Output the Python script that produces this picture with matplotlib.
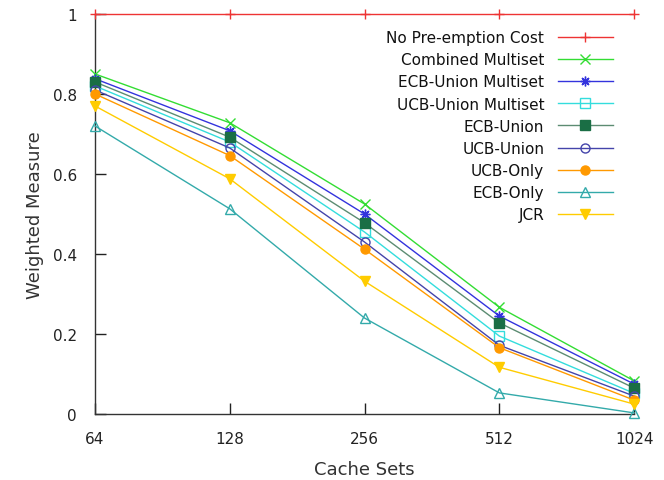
import matplotlib
matplotlib.use("Agg")
import matplotlib.pyplot as plt

cache_sets = [64, 128, 256, 512, 1024]
x_labels = ["64", "128", "256", "512", "1024"]

no_preemption = [1.0, 1.0, 1.0, 1.0, 1.0]
combined_multiset = [0.850, 0.728, 0.525, 0.267, 0.083]
ecb_union_multiset = [0.838, 0.708, 0.500, 0.245, 0.075]
ucb_union_multiset = [0.820, 0.680, 0.455, 0.195, 0.052]
ecb_union = [0.830, 0.692, 0.478, 0.228, 0.065]
ucb_union = [0.810, 0.665, 0.430, 0.172, 0.045]
ucb_only = [0.800, 0.646, 0.412, 0.166, 0.035]
ecb_only = [0.720, 0.513, 0.240, 0.053, 0.003]
jcr = [0.770, 0.588, 0.332, 0.117, 0.025]

series = [
    ("No Pre-emption Cost", no_preemption, "#ee3333", "+", "none"),
    ("Combined Multiset", combined_multiset, "#33dd33", "x", "none"),
    ("ECB-Union Multiset", ecb_union_multiset, "#3333dd", (8, 2, 0), "none"),
    ("UCB-Union Multiset", ucb_union_multiset, "#33dddd", "s", "none"),
    ("ECB-Union", ecb_union, "#1a6e45", "s", "full"),
    ("UCB-Union", ucb_union, "#4444aa", "o", "none"),
    ("UCB-Only", ucb_only, "#ff9900", "o", "full"),
    ("ECB-Only", ecb_only, "#33aaaa", "^", "none"),
    ("JCR", jcr, "#ffcc00", "v", "full"),
]

fig = plt.figure(figsize=(6.64, 4.81), dpi=100)
ax = fig.add_axes([0.143, 0.137, 0.812, 0.832])

for label, vals, color, marker, fill in series:
    lc = color
    if label == "ECB-Union":
        lc = "#5c8c72"
    ax.plot(cache_sets, vals, color=lc, lw=1.0, marker=marker,
            markersize=7 if marker != "o" else 6.5,
            markerfacecolor=(color if fill == "full" else "none"),
            markeredgecolor=color, markeredgewidth=1.0, label=label,
            clip_on=False, zorder=3)

ax.set_xscale("log", base=2)
ax.set_xlim(64, 1024)
ax.set_ylim(0, 1)
ax.set_xticks(cache_sets)
ax.set_xticklabels(x_labels)
ax.minorticks_off()
ax.set_yticks([0, 0.2, 0.4, 0.6, 0.8, 1])
ax.set_yticklabels(["0", "0.2", "0.4", "0.6", "0.8", "1"])
ax.tick_params(direction="in", length=8, width=1, labelsize=11, colors="#222222")
ax.tick_params(axis="y", pad=13)
ax.tick_params(axis="x", pad=12)
for s in ("top", "right"):
    ax.spines[s].set_visible(False)
for s in ("left", "bottom"):
    ax.spines[s].set_color("#333333")
    ax.spines[s].set_linewidth(1.0)

ax.set_xlabel("Cache Sets", fontsize=13, color="#333333", labelpad=10)
ax.set_ylabel("Weighted Measure", fontsize=13, color="#333333", labelpad=6)

leg = ax.legend(loc="upper right", bbox_to_anchor=(0.972, 0.975), frameon=False,
                markerfirst=False, fontsize=11, handlelength=3.6,
                labelspacing=0.47, handletextpad=0.9, borderaxespad=0)
for t in leg.get_texts():
    t.set_color("#111111")

fig.savefig("out.png", dpi=100)
